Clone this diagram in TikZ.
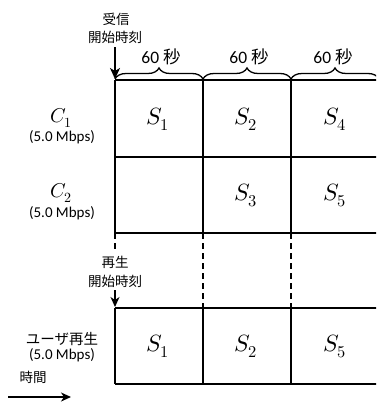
\documentclass[tikz,border=0pt]{standalone}
\usepackage{fontspec}
\usepackage{unicode-math}
\setmathfont{Latin Modern Math}
\newfontfamily\jpfont{Noto Sans CJK JP}
\newfontfamily\latfont{Carlito}
\usetikzlibrary{arrows.meta,positioning,decorations.pathreplacing}

\begin{document}
\begin{tikzpicture}[x=1pt,y=-1pt,
  grid/.style={line width=2pt},
  sep/.style={line width=2.8pt},
  guide/.style={line width=1.4pt, dash pattern=on 6pt off 4pt},
  seg/.style={font=\fontsize{23.5}{26}\selectfont},
  chan/.style={font=\fontsize{20}{22}\selectfont, inner sep=0pt},
  rate/.style={font=\latfont\fontsize{15}{17}\selectfont, inner sep=0pt},
  jp/.style={font=\jpfont\fontsize{13.5}{16}\selectfont, inner sep=0pt},
  dur/.style={font=\latfont\fontsize{17.5}{20}\selectfont, inner sep=0pt},
  brc/.style={decorate, decoration={brace, amplitude=11pt}, line width=1.3pt},
  arr/.style={-{Stealth[length=11pt,width=10pt,inset=3pt]}, line width=1.4pt}]
\useasboundingbox (0,0) rectangle (376,403);
\clip (0,0) rectangle (376,403);
% Grid of received segments
\draw[grid] (115,80) -- (380,80) (115,157) -- (380,157) (115,233) -- (380,233);
\draw[grid] (115,80) -- (115,233) (291,80) -- (291,233);
\draw[sep] (203,80) -- (203,233);
% Guides down to playback
\draw[guide] (115,233) -- (115,251) (203,233) -- (203,308) (291,233) -- (291,308);
% Playback row
\draw[grid] (115,308) -- (380,308) (115,384) -- (380,384);
\draw[grid] (115,308) -- (115,384) (291,308) -- (291,384);
\draw[sep] (203,308) -- (203,384);
% Braces
\draw[brc] (115,79) -- (203,79);
\draw[brc] (203,79) -- (291,79);
\draw[brc] (291,79) -- (379,79);
\node[dur] (d1) at (161,57) {60 {\jpfont 秒}};
\node[dur] (d2) at (249,57) {60 {\jpfont 秒}};
\node[dur] (d3) at (333,57) {60 {\jpfont 秒}};
% Segments
\node[seg] (c1a) at (158,119) {$S_1$};
\node[seg] (c1b) at (246,119) {$S_2$};
\node[seg] (c1c) at (335,119) {$S_4$};
\node[seg] (c2b) at (246,195) {$S_3$};
\node[seg] (c2c) at (335,195) {$S_5$};
\node[seg] (ua) at (158,346) {$S_1$};
\node[seg] (ub) at (246,346) {$S_2$};
\node[seg] (uc) at (335,346) {$S_5$};
% Row labels
\node[chan] (ch1) at (61,118) {$C_1$};
\node[rate] (ch1r) at (62,137) {(5.0 Mbps)};
\node[chan] (ch2) at (61,193) {$C_2$};
\node[rate] (ch2r) at (62,213) {(5.0 Mbps)};
\node[jp, font=\jpfont\fontsize{14.5}{16}\selectfont] (usr) at (62,339) {ユーザ再生};
\node[rate] (usrr) at (62,355) {(5.0 Mbps)};
% Start times
\node[jp] (rx1) at (116,19) {受信};
\node[jp] (rx2) at (115,37) {開始時刻};
\coordinate (t0) at (115,79);
\draw[arr] ([yshift=-4pt]rx2.south) -- (t0);
\node[jp] (pl1) at (115,262) {再生};
\node[jp] (pl2) at (115,281) {開始時刻};
\coordinate (t1) at (115,307);
\draw[arr, -{Stealth[length=10pt,width=9pt,inset=3pt]}] ([yshift=-3pt]pl2.south) -- (t1);
% Time axis
\node[jp] (time) at (33,377) {時間};
\coordinate (ta) at (8,397);
\coordinate (tb) at (71,397);
\draw[arr, -{Stealth[length=10pt,width=9pt,inset=3pt]}] (ta) -- (tb);
\end{tikzpicture}
\end{document}
